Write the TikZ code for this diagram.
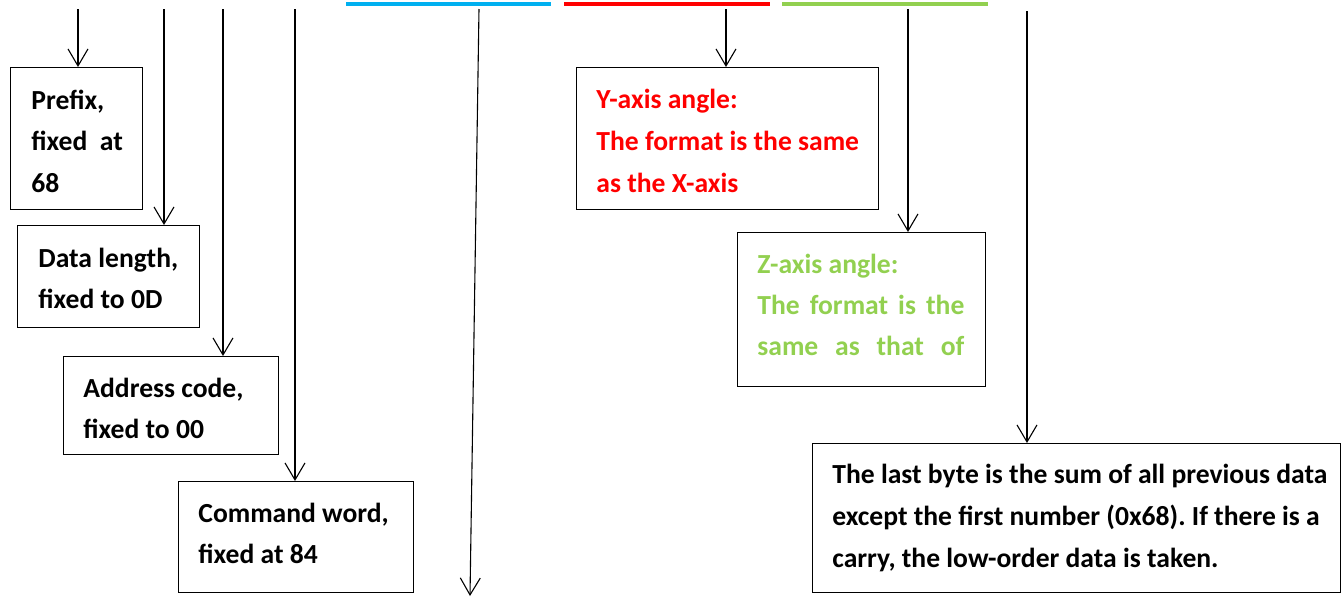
\documentclass[tikz,border=0pt]{standalone}
\usepackage{fontspec}
\setmainfont{Carlito}
\usetikzlibrary{arrows.meta}
\definecolor{barblue}{HTML}{00B0F0}
\definecolor{barred}{HTML}{FF0000}
\definecolor{bargreen}{HTML}{92D050}
\frenchspacing
\begin{document}
\begin{tikzpicture}[x=0.5pt,y=-0.5pt,
  box/.style={draw=black,line width=0.6pt,inner sep=0pt,anchor=north west},
  txt/.style={anchor=base west,inner sep=0pt,font=\fontsize{13.8}{20}\selectfont\bfseries\frenchspacing},
  conn/.style={draw=black,line width=0.55pt,-{Straight Barb[length=8.5pt,width=10pt]}},
  bar/.style={line width=2pt}]
\useasboundingbox (0,0) rectangle (1341,596);
% colour bars
\draw[bar,barblue] (346,4) -- (551,4);
\draw[bar,barred] (564,4) -- (770,4);
\draw[bar,bargreen] (782,4) -- (988,4);
% boxes
\node[box,minimum width=66pt,minimum height=71pt] (prefix) at (10,67) {};
\node[box,minimum width=91pt,minimum height=51pt] (dlen) at (17,225) {};
\node[box,minimum width=107.5pt,minimum height=49pt] (addr) at (63,356) {};
\node[box,minimum width=117.5pt,minimum height=55.5pt] (cmd) at (178,481) {};
\node[box,minimum width=151pt,minimum height=71pt] (yax) at (576,67) {};
\node[box,minimum width=124pt,minimum height=77pt] (zax) at (737,232) {};
\node[box,minimum width=264pt,minimum height=74.5pt] (sum) at (812,443) {};
% texts
\node[txt] (t1a) at (31,109) {Prefix,};
\node[txt] (t1b) at (31,150) {fixed\ \ at};
\node[txt] (t1c) at (31,192) {68};
\node[txt] (t2a) at (38,267) {Data length,};
\node[txt] (t2b) at (38,308) {fixed to 0D};
\node[txt] (t3a) at (83,397) {Address code,};
\node[txt] (t3b) at (83,438) {fixed to 00};
\node[txt] (t4a) at (198,522) {Command word,};
\node[txt] (t4b) at (198,563) {fixed at 84};
\node[txt,text=barred] (t5a) at (596,108) {Y-axis angle:};
\node[txt,text=barred] (t5b) at (596,150) {The format is the same};
\node[txt,text=barred] (t5c) at (596,192) {as the X-axis};
\node[txt,text=bargreen] (t6a) at (757,273) {Z-axis angle:};
\node[txt,text=bargreen] (t6b) at (757,314) {\makebox[103.5pt][s]{The format is the}};
\node[txt,text=bargreen] (t6c) at (757,355) {\makebox[103.5pt][s]{same as that of}};
\node[txt] (t7a) at (832,483) {The last byte is the sum of all previous data};
\node[txt] (t7b) at (832,525) {except the first number (0x68). If there is a};
\node[txt] (t7c) at (832,567) {carry, the low-order data is taken.};
% connector start points
\coordinate (s1) at (78,9);
\coordinate (s2) at (164,9);
\coordinate (s3) at (223,9);
\coordinate (s4) at (295,9);
\coordinate (s5) at (479,9);
\coordinate (e5) at (470,596);
\coordinate (s6) at (726,9);
\coordinate (s7) at (908,9);
\coordinate (s8) at (1027,11);
% connectors
\draw[conn] (s1) -- (s1 |- prefix.north);
\draw[conn] (s2) -- (s2 |- dlen.north);
\draw[conn] (s3) -- (s3 |- addr.north);
\draw[conn] (s4) -- (s4 |- cmd.north);
\draw[conn] (s5) -- (e5);
\draw[conn] (s6) -- (s6 |- yax.north);
\draw[conn] (s7) -- (s7 |- zax.north);
\draw[conn] (s8) -- (s8 |- sum.north);
\end{tikzpicture}
\end{document}
